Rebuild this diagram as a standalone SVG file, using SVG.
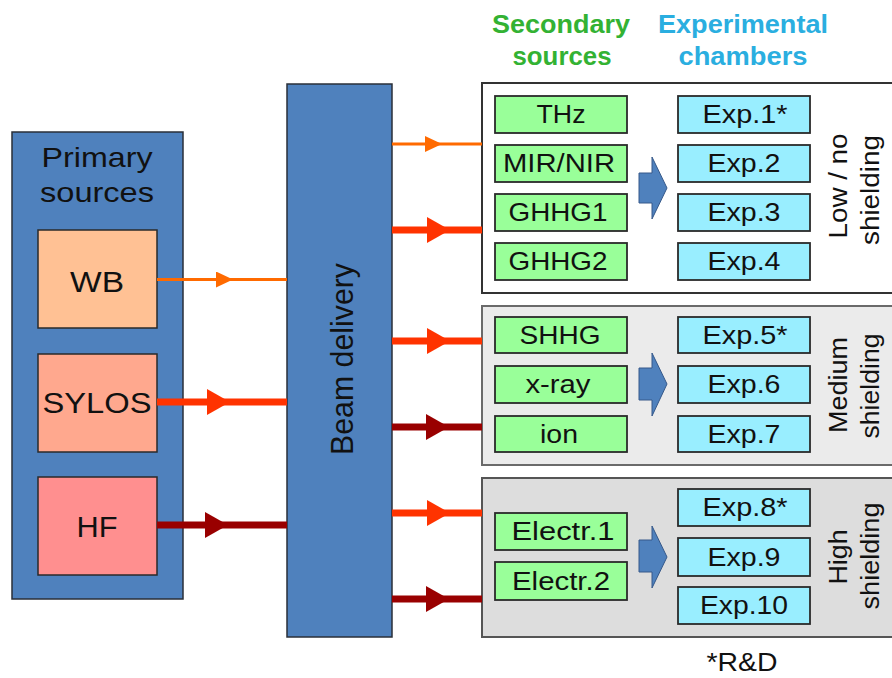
<svg xmlns="http://www.w3.org/2000/svg" width="892" height="678" viewBox="0 0 892 678">
<style>
text{font-family:"Liberation Sans",Arial,sans-serif;fill:#111;text-anchor:middle}
.t{font-size:25px}
.big{font-size:30px}
.hdr{font-size:25px;font-weight:bold}
.blue{fill:#4F81BD;stroke:#2A2F38;stroke-width:1.5}
.src{stroke:#2A2A2A;stroke-width:1.5}
.g{fill:#99FF99;stroke:#2A2A2A;stroke-width:1.8}
.c{fill:#99EEFF;stroke:#2A2A2A;stroke-width:1.8}
.barrow{fill:#4F81BD;stroke:#36598A;stroke-width:1}
.thin{stroke:#FF6A00;stroke-width:3;fill:none}
.red{stroke:#FF3300;stroke-width:7;fill:none}
.dark{stroke:#990000;stroke-width:7;fill:none}
</style>
<defs>
<marker id="mThin" markerUnits="userSpaceOnUse" markerWidth="17" markerHeight="16" refX="17" refY="8" orient="auto"><path d="M0,0 L17,8 L0,16 z" fill="#FF6A00"/></marker>
<marker id="mRed" markerUnits="userSpaceOnUse" markerWidth="23" markerHeight="26" refX="23" refY="13" orient="auto"><path d="M0,0 L23,13 L0,26 z" fill="#FF3300"/></marker>
<marker id="mDark" markerUnits="userSpaceOnUse" markerWidth="23" markerHeight="26" refX="23" refY="13" orient="auto"><path d="M0,0 L23,13 L0,26 z" fill="#990000"/></marker>
</defs>
<rect width="892" height="678" fill="#FFFFFF"/>

<g id="primary">
<rect class="blue" x="12" y="132" width="171" height="467"/>
<text style="font-size:28px" x="97" y="167" textLength="111" lengthAdjust="spacingAndGlyphs">Primary</text>
<text style="font-size:28px" x="97" y="202" textLength="114" lengthAdjust="spacingAndGlyphs">sources</text>
</g>
<g id="wb">
<rect class="src" x="38" y="230" width="119" height="98" fill="#FFC194"/>
<text class="big" x="97" y="292" textLength="54" lengthAdjust="spacingAndGlyphs">WB</text>
</g>
<g id="sylos">
<rect class="src" x="38" y="354" width="119" height="98" fill="#FFA88E"/>
<text class="big" x="97" y="413" textLength="109" lengthAdjust="spacingAndGlyphs">SYLOS</text>
</g>
<g id="hf">
<rect class="src" x="38" y="477" width="119" height="98" fill="#FF8F8F"/>
<text class="big" x="97" y="537" textLength="41" lengthAdjust="spacingAndGlyphs">HF</text>
</g>

<g id="beam">
<rect class="blue" x="287" y="84" width="105" height="553"/>
<text style="font-size:32px" transform="translate(353,359) rotate(-90)" textLength="192" lengthAdjust="spacingAndGlyphs">Beam delivery</text>
</g>

<g id="headers">
<text class="hdr" style="fill:#33B233" x="561" y="33" textLength="138" lengthAdjust="spacingAndGlyphs">Secondary</text>
<text class="hdr" style="fill:#33B233" x="562" y="65" textLength="99" lengthAdjust="spacingAndGlyphs">sources</text>
<text class="hdr" style="fill:#2AAEE0" x="743" y="33" textLength="170" lengthAdjust="spacingAndGlyphs">Experimental</text>
<text class="hdr" style="fill:#2AAEE0" x="743" y="65" textLength="129" lengthAdjust="spacingAndGlyphs">chambers</text>
</g>

<g id="low">
<rect x="482" y="83" width="420" height="210" fill="#FFFFFF" stroke="#333" stroke-width="2"/>
<text class="t" transform="translate(847,186) rotate(-90)" textLength="105" lengthAdjust="spacingAndGlyphs">Low / no</text>
<text class="t" transform="translate(879,190) rotate(-90)" textLength="110" lengthAdjust="spacingAndGlyphs">shielding</text>
</g>
<g id="medium">
<rect x="482" y="306" width="420" height="159" fill="#EBEBEB" stroke="#6A6A6A" stroke-width="2"/>
<text class="t" transform="translate(847,385) rotate(-90)" textLength="96" lengthAdjust="spacingAndGlyphs">Medium</text>
<text class="t" transform="translate(879,386) rotate(-90)" textLength="105" lengthAdjust="spacingAndGlyphs">shielding</text>
</g>
<g id="high">
<rect x="482" y="478" width="420" height="159" fill="#DDDDDD" stroke="#555" stroke-width="2"/>
<text class="t" transform="translate(847,557) rotate(-90)" textLength="55" lengthAdjust="spacingAndGlyphs">High</text>
<text class="t" transform="translate(879,556) rotate(-90)" textLength="107" lengthAdjust="spacingAndGlyphs">shielding</text>
</g>

<g id="thz"><rect class="g" x="495" y="96" width="132" height="37"/><text class="t" x="561" y="123" textLength="49" lengthAdjust="spacingAndGlyphs">THz</text></g>
<g id="mirnir"><rect class="g" x="495" y="145" width="132" height="37"/><text class="t" x="559" y="172" textLength="112" lengthAdjust="spacingAndGlyphs">MIR/NIR</text></g>
<g id="ghhg1"><rect class="g" x="495" y="194" width="132" height="37"/><text class="t" x="558" y="221" textLength="99" lengthAdjust="spacingAndGlyphs">GHHG1</text></g>
<g id="ghhg2"><rect class="g" x="495" y="243" width="132" height="37"/><text class="t" x="558" y="270" textLength="99" lengthAdjust="spacingAndGlyphs">GHHG2</text></g>
<g id="shhg"><rect class="g" x="495" y="317" width="132" height="36"/><text class="t" x="560" y="344" textLength="81" lengthAdjust="spacingAndGlyphs">SHHG</text></g>
<g id="xray"><rect class="g" x="495" y="366" width="132" height="37"/><text class="t" x="558" y="393" textLength="65" lengthAdjust="spacingAndGlyphs">x-ray</text></g>
<g id="ion"><rect class="g" x="495" y="416" width="132" height="36"/><text class="t" x="559" y="443" textLength="38" lengthAdjust="spacingAndGlyphs">ion</text></g>
<g id="electr1"><rect class="g" x="495" y="513" width="132" height="37"/><text class="t" x="563" y="540" textLength="103" lengthAdjust="spacingAndGlyphs">Electr.1</text></g>
<g id="electr2"><rect class="g" x="495" y="562" width="132" height="38"/><text class="t" x="561" y="590" textLength="98" lengthAdjust="spacingAndGlyphs">Electr.2</text></g>

<g id="exp1"><rect class="c" x="678" y="96" width="132" height="37"/><text class="t" x="745" y="123" textLength="85" lengthAdjust="spacingAndGlyphs">Exp.1*</text></g>
<g id="exp2"><rect class="c" x="678" y="145" width="132" height="37"/><text class="t" x="744" y="172" textLength="73" lengthAdjust="spacingAndGlyphs">Exp.2</text></g>
<g id="exp3"><rect class="c" x="678" y="194" width="132" height="37"/><text class="t" x="744" y="221" textLength="73" lengthAdjust="spacingAndGlyphs">Exp.3</text></g>
<g id="exp4"><rect class="c" x="678" y="243" width="132" height="37"/><text class="t" x="744" y="270" textLength="73" lengthAdjust="spacingAndGlyphs">Exp.4</text></g>
<g id="exp5"><rect class="c" x="678" y="317" width="132" height="36"/><text class="t" x="745" y="344" textLength="85" lengthAdjust="spacingAndGlyphs">Exp.5*</text></g>
<g id="exp6"><rect class="c" x="678" y="366" width="132" height="37"/><text class="t" x="744" y="393" textLength="73" lengthAdjust="spacingAndGlyphs">Exp.6</text></g>
<g id="exp7"><rect class="c" x="678" y="416" width="132" height="36"/><text class="t" x="744" y="443" textLength="73" lengthAdjust="spacingAndGlyphs">Exp.7</text></g>
<g id="exp8"><rect class="c" x="678" y="489" width="132" height="37"/><text class="t" x="745" y="516" textLength="85" lengthAdjust="spacingAndGlyphs">Exp.8*</text></g>
<g id="exp9"><rect class="c" x="678" y="538" width="132" height="38"/><text class="t" x="744" y="566" textLength="73" lengthAdjust="spacingAndGlyphs">Exp.9</text></g>
<g id="exp10"><rect class="c" x="678" y="587" width="132" height="37"/><text class="t" x="744" y="614" textLength="88" lengthAdjust="spacingAndGlyphs">Exp.10</text></g>

<g id="blockarrows">
<path class="barrow" d="M639,173 L652,173 L652,157 L667,188 L652,219 L652,203 L639,203 z"/>
<path class="barrow" d="M639,368 L652,368 L652,353 L667,384 L652,416 L652,400 L639,400 z"/>
<path class="barrow" d="M639,540 L652,540 L652,526 L667,557 L652,588 L652,572 L639,572 z"/>
</g>

<g id="connectors">
<polyline class="thin" points="157,279.5 233,279.5 287,279.5" marker-mid="url(#mThin)"/>
<polyline class="red" points="157,402 230,402 287,402" marker-mid="url(#mRed)"/>
<polyline class="dark" points="157,525 228,525 287,525" marker-mid="url(#mDark)"/>
<polyline class="thin" points="392,144 442,144 482,144" marker-mid="url(#mThin)"/>
<polyline class="red" points="392,230 450,230 482,230" marker-mid="url(#mRed)"/>
<polyline class="red" points="392,341 450,341 482,341" marker-mid="url(#mRed)"/>
<polyline class="dark" points="392,427 449,427 482,427" marker-mid="url(#mDark)"/>
<polyline class="red" points="392,513 450,513 482,513" marker-mid="url(#mRed)"/>
<polyline class="dark" points="392,599 449,599 482,599" marker-mid="url(#mDark)"/>
</g>

<text class="t" x="742" y="671" textLength="71" lengthAdjust="spacingAndGlyphs">*R&amp;D</text>
</svg>
